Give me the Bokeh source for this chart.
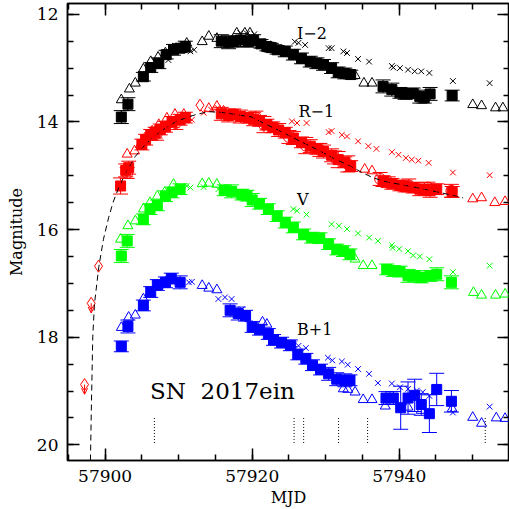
from bokeh.plotting import figure
from bokeh.models import (Range1d, FixedTicker, LinearAxis, ColumnDataSource, Whisker,
                          TeeHead, Arrow, OpenHead, Label)
from bokeh.embed import file_html
from bokeh.resources import INLINE

# ---------------- data (MJD, magnitude, error) ----------------
# I-2 (black)
I_sq_t = [57902.2, 57903.1, 57905.2, 57906.2, 57907.3, 57908.3, 57909.3, 57910.2, 57910.9,
          57915.8, 57916.8, 57917.5, 57918.4, 57919.5, 57920.2, 57921.2, 57922.0, 57922.6, 57923.4,
          57924.5, 57925.6, 57926.7, 57927.9, 57928.8, 57929.7, 57930.8, 57931.7, 57932.6, 57933.4,
          57937.8, 57939.0, 57940.1, 57940.8, 57941.9, 57942.8, 57943.4, 57944.2, 57947.2]
I_sq_m = [13.91, 13.67, 13.16, 12.99, 12.91, 12.75, 12.66, 12.63, 12.60,
          12.50, 12.52, 12.51, 12.48, 12.51, 12.48, 12.55, 12.60, 12.62, 12.66,
          12.69, 12.75, 12.82, 12.88, 12.91, 12.94, 13.00, 13.08, 13.10, 13.12,
          13.34, 13.40, 13.46, 13.48, 13.47, 13.53, 13.55, 13.48, 13.51]
I_sq_e = [0.12, 0.12, 0.08, 0.09, 0.10, 0.08, 0.10, 0.08, 0.10,
          0.12, 0.12, 0.10, 0.12, 0.10, 0.10, 0.08, 0.08, 0.08, 0.08,
          0.10, 0.10, 0.10, 0.10, 0.10, 0.10, 0.10, 0.10, 0.10, 0.08,
          0.12, 0.12, 0.10, 0.10, 0.10, 0.12, 0.10, 0.12, 0.10]
I_tri_t = [57902.2, 57903.3, 57904.1, 57905.2, 57906.2, 57907.2, 57908.2, 57909.2, 57911.1,
           57913.2, 57914.1, 57915.2, 57917.9, 57919.0, 57919.7, 57922.5, 57934.0, 57935.2,
           57936.3, 57950.0, 57951.2, 57953.1, 57954.1]
I_tri_m = [13.59, 13.39, 13.28, 13.02, 12.88, 12.80, 12.72, 12.64, 12.54,
           12.51, 12.41, 12.45, 12.35, 12.35, 12.35, 12.60, 13.14, 13.28,
           13.28, 13.68, 13.70, 13.74, 13.74]
I_x_t = [57908.6, 57911.6, 57912.1, 57918.4, 57919.3, 57920.3, 57925.8, 57926.3, 57927.2,
         57930.4, 57930.8, 57932.4, 57932.9, 57934.4, 57935.9, 57939.0, 57939.2, 57940.1,
         57941.2, 57942.1, 57943.0, 57944.1, 57947.3, 57952.3]
I_x_m = [12.85, 12.69, 12.66, 12.35, 12.36, 12.37, 12.51, 12.53, 12.57,
         12.63, 12.63, 12.69, 12.72, 12.83, 12.88, 12.96, 12.99, 13.00,
         13.03, 13.06, 13.06, 13.09, 13.24, 13.28]

# R-1 (red)
R_sq_t = [57902.1, 57902.8, 57903.2, 57905.0, 57905.5, 57906.2, 57906.8, 57907.5, 57908.2,
          57909.1, 57910.2, 57910.9,
          57915.8, 57916.8, 57917.5, 57918.4, 57919.5, 57920.2, 57921.0, 57922.0, 57922.8,
          57923.6, 57924.5, 57925.6, 57926.7, 57927.9, 57928.8, 57929.7, 57930.8, 57931.7,
          57932.6, 57933.4,
          57937.8, 57939.0, 57940.1, 57940.8, 57941.9, 57942.8, 57943.4, 57944.2, 57945.1, 57947.2]
R_sq_m = [15.19, 14.90, 14.85, 14.42, 14.33, 14.24, 14.20, 14.14, 14.09,
          14.00, 13.96, 13.92,
          13.85, 13.88, 13.86, 13.90, 13.92, 13.95, 13.98, 14.05, 14.10,
          14.15, 14.20, 14.30, 14.38, 14.45, 14.50, 14.55, 14.62, 14.70,
          14.75, 14.82,
          15.10, 15.15, 15.18, 15.20, 15.22, 15.25, 15.26, 15.28, 15.25, 15.30]
R_sq_e = [0.15, 0.12, 0.12, 0.10, 0.10, 0.10, 0.10, 0.10, 0.10,
          0.10, 0.10, 0.10,
          0.12, 0.12, 0.10, 0.12, 0.10, 0.12, 0.10, 0.10, 0.10,
          0.12, 0.10, 0.12, 0.10, 0.12, 0.10, 0.12, 0.12, 0.15,
          0.10, 0.10,
          0.10, 0.10, 0.10, 0.10, 0.10, 0.12, 0.10, 0.12, 0.10, 0.10]
R_ci_t = [57903.0, 57907.0, 57909.6, 57920.5, 57921.6, 57925.0, 57927.3, 57929.2, 57931.2,
          57933.0, 57937.4, 57938.5, 57941.3, 57943.9, 57947.1]
R_ci_m = [14.95, 14.22, 14.02, 13.92, 14.05, 14.28, 14.44, 14.52, 14.66,
          14.78, 15.06, 15.12, 15.18, 15.22, 15.28]
R_ci_e = [0.10, 0.12, 0.12, 0.12, 0.15, 0.12, 0.15, 0.12, 0.12,
          0.15, 0.12, 0.10, 0.12, 0.10, 0.12]
R_tri_t = [57903.0, 57904.0, 57904.8, 57905.4, 57906.4, 57907.3, 57908.4, 57909.5, 57910.7,
           57914.1, 57915.2, 57916.1, 57935.3, 57936.3, 57950.0, 57951.2, 57953.0, 57954.4]
R_tri_m = [14.60, 14.54, 14.42, 14.30, 14.17, 14.05, 13.93, 13.86, 13.86,
           13.75, 13.71, 13.80, 14.88, 14.91, 15.43, 15.41, 15.50, 15.48]
R_x_t = [57911.4, 57911.8, 57913.4, 57914.4, 57915.3, 57925.4, 57926.1, 57927.4, 57930.4,
         57930.8, 57932.2, 57932.9, 57934.4, 57935.8, 57936.9, 57939.0, 57939.9, 57940.9,
         57941.7, 57942.6, 57944.0, 57947.3, 57952.3]
R_x_m = [13.93, 13.96, 13.83, 13.77, 13.74, 13.99, 14.02, 14.02, 14.19,
         14.17, 14.24, 14.27, 14.36, 14.45, 14.50, 14.56, 14.61, 14.67,
         14.70, 14.72, 14.76, 14.94, 14.99]
R_lim_t = [57897.2, 57898.1]          # upper limits (arrows)
R_lim_m = [18.88, 17.37]
R_lim_arrow = [0.18, 0.18]
R_dia_t = [57899.1, 57912.9]
R_dia_m = [16.68, 13.69]

# fit curve through R-1
fit_t = [57898.0, 57898.14, 57898.32, 57898.55, 57899.13, 57899.77, 57900.49, 57901.09,
         57901.85, 57902.9, 57904.11, 57905.2, 57906.38, 57907.5, 57908.64, 57909.7,
         57910.9, 57912.4, 57914.07, 57915.65, 57917.69, 57919.96, 57921.09, 57922.58,
         57924.25, 57926.52, 57928.79, 57931.0, 57933.31, 57934.94, 57936.47, 57938.19,
         57940.1, 57942.36, 57945.5, 57948.7]
fit_m = [20.29, 19.20, 17.98, 17.38, 16.70, 16.18, 15.77, 15.49,
         15.22, 14.92, 14.64, 14.46, 14.30, 14.18, 14.08, 13.99,
         13.93, 13.86, 13.81, 13.82, 13.86, 13.91, 13.99, 14.09,
         14.20, 14.36, 14.51, 14.67, 14.82, 14.94, 15.04, 15.11,
         15.16, 15.22, 15.31, 15.41]

# V (green)
V_sq_t = [57902.2, 57903.0, 57905.2, 57906.1, 57907.1, 57908.2, 57909.1, 57910.2,
          57916.2, 57917.2, 57918.6, 57919.3, 57920.0, 57921.0, 57922.2, 57923.4, 57924.5,
          57925.6, 57927.0, 57928.1, 57929.2, 57930.4, 57931.5, 57932.4, 57933.3,
          57938.3, 57939.2, 57940.1, 57941.2, 57942.1, 57943.0, 57944.2, 57945.1, 57947.1]
V_sq_m = [16.49, 16.21, 15.81, 15.62, 15.55, 15.38, 15.31, 15.25,
          15.27, 15.29, 15.35, 15.37, 15.45, 15.52, 15.62, 15.75, 15.87,
          15.96, 16.09, 16.15, 16.16, 16.27, 16.37, 16.40, 16.46,
          16.74, 16.77, 16.78, 16.86, 16.86, 16.89, 16.86, 16.83, 16.98]
V_sq_e = [0.12, 0.12, 0.10, 0.10, 0.10, 0.10, 0.10, 0.10,
          0.10, 0.12, 0.10, 0.10, 0.12, 0.10, 0.10, 0.10, 0.10,
          0.10, 0.10, 0.10, 0.10, 0.10, 0.10, 0.10, 0.10,
          0.10, 0.10, 0.10, 0.12, 0.10, 0.10, 0.10, 0.12, 0.12]
V_tri_t = [57902.1, 57903.1, 57904.1, 57905.2, 57906.1, 57907.1, 57908.1, 57909.3,
           57913.2, 57914.1, 57915.2, 57934.0, 57935.1, 57936.3, 57950.1, 57951.2,
           57953.1, 57954.4]
V_tri_m = [16.18, 15.93, 15.84, 15.62, 15.50, 15.38, 15.31, 15.16,
           15.15, 15.14, 15.16, 16.55, 16.67, 16.67, 17.17, 17.22,
           17.22, 17.20]
V_x_t = [57911.1, 57911.6, 57913.4, 57915.4, 57916.0, 57920.2, 57925.6, 57926.1, 57927.4,
         57930.8, 57931.8, 57932.9, 57934.4, 57935.9, 57937.1, 57939.0, 57939.1, 57940.0,
         57941.2, 57941.9, 57942.8, 57944.1, 57947.3, 57952.3]
V_x_m = [15.19, 15.22, 15.21, 15.25, 15.27, 15.38, 15.62, 15.65, 15.72,
         15.90, 15.93, 15.99, 16.07, 16.15, 16.21, 16.29, 16.34, 16.36,
         16.40, 16.48, 16.50, 16.55, 16.79, 16.67]

# B+1 (blue)
B_sq_t = [57902.2, 57903.1, 57905.2, 57906.2, 57907.1, 57908.2, 57909.0, 57910.2,
          57917.0, 57918.1, 57919.1, 57920.0, 57921.0, 57922.2, 57922.9, 57924.0, 57925.2,
          57926.2, 57927.3, 57928.2, 57929.3, 57930.4, 57931.5, 57932.6, 57933.3,
          57938.2, 57939.2, 57940.2, 57941.2, 57942.1, 57943.0, 57944.1, 57945.1, 57947.1]
B_sq_m = [18.17, 17.80, 17.41, 17.16, 17.03, 16.98, 16.91, 16.98,
          17.50, 17.56, 17.60, 17.81, 17.86, 17.94, 18.05, 18.10, 18.15,
          18.32, 18.40, 18.52, 18.60, 18.68, 18.78, 18.80, 18.80,
          19.13, 19.13, 19.31, 19.13, 19.08, 19.25, 19.42, 18.97, 19.19]
B_sq_e = [0.10, 0.12, 0.10, 0.10, 0.10, 0.10, 0.10, 0.12,
          0.12, 0.12, 0.10, 0.10, 0.10, 0.10, 0.10, 0.10, 0.10,
          0.10, 0.10, 0.10, 0.10, 0.12, 0.12, 0.12, 0.10,
          0.12, 0.12, 0.40, 0.30, 0.30, 0.20, 0.35, 0.30, 0.20]
B_tri_t = [57902.2, 57903.2, 57904.1, 57905.2, 57906.1, 57907.2, 57908.2, 57913.2,
           57914.1, 57915.2, 57921.4, 57922.0, 57932.4, 57933.0, 57934.0, 57935.1,
           57936.3, 57938.1, 57941.2, 57943.0, 57947.2, 57950.0, 57951.2, 57953.2, 57954.4]
B_tri_m = [17.82, 17.63, 17.59, 17.29, 17.17, 17.05, 16.98, 17.04,
           17.09, 17.12, 17.72, 17.76, 18.96, 18.97, 19.02, 19.16,
           19.16, 19.28, 19.30, 19.36, 19.33, 19.49, 19.60, 19.50, 19.51]
B_x_t = [57911.4, 57911.8, 57915.4, 57916.3, 57917.2, 57918.6, 57925.7, 57926.3, 57927.3,
         57930.3, 57930.9, 57932.2, 57933.0, 57934.4, 57935.9, 57937.1, 57939.0, 57940.1,
         57941.2, 57942.4, 57943.2, 57944.1, 57947.3, 57952.3]
B_x_m = [16.98, 16.97, 17.29, 17.26, 17.29, 17.48, 18.13, 18.16, 18.20,
         18.38, 18.43, 18.45, 18.51, 18.59, 18.68, 18.85, 18.86, 18.93,
         18.96, 18.99, 19.02, 19.09, 19.40, 19.29]

# epochs marked at the bottom (dotted)
epoch_t = [57906.7, 57925.7, 57927.0, 57931.75, 57935.7, 57951.7]
epoch_top, epoch_bottom = 19.5, 20.0

# text labels
band_labels = ["I\u22122", "R\u22121", "V", "B+1"]
band_label_t = [57926.1, 57926.3, 57926.1, 57926.1]
band_label_m = [12.35, 13.80, 15.44, 17.85]
title_text = "SN\u00a0\u00a02017ein"
title_t, title_m = 57906.1, 19.0

x_major = [57900, 57920, 57940]
y_major = [12, 14, 16, 18, 20]

# ---------------- figure ----------------
SERIF = "DejaVu Serif"
p = figure(width=509, height=509, output_backend="svg", toolbar_location=None,
           x_range=Range1d(57894.88, 57955.0), y_range=Range1d(20.29, 11.8),
           min_border_left=67, min_border_right=0, min_border_top=3, min_border_bottom=47)
p.xgrid.visible = False
p.ygrid.visible = False
p.outline_line_color = "black"
p.outline_line_width = 1.5
p.background_fill_color = "white"
p.border_fill_color = "white"

p.add_layout(LinearAxis(), "above")
p.add_layout(LinearAxis(), "right")

xt = FixedTicker(ticks=x_major, minor_ticks=[57895 + 5 * i for i in range(13)])
yt = FixedTicker(ticks=y_major, minor_ticks=[11.5 + 0.5 * i for i in range(20)])
for ax in p.xaxis:
    ax.ticker = xt
for ax in p.yaxis:
    ax.ticker = yt
for ax in p.xaxis + p.yaxis:
    ax.major_tick_in = 12
    ax.major_tick_out = 0
    ax.minor_tick_in = 6
    ax.minor_tick_out = 0
    ax.axis_line_width = 1.5
    ax.major_tick_line_width = 1.5
    ax.minor_tick_line_width = 1.5
    ax.major_label_text_font = SERIF
    ax.major_label_text_font_size = "17px"
    ax.major_label_text_color = "black"
    ax.axis_label_text_font = SERIF
    ax.axis_label_text_font_style = "normal"
    ax.axis_label_text_font_size = "16px"
    ax.axis_label_text_color = "black"
p.above[0].major_label_overrides = {t: "" for t in x_major}
p.right[0].major_label_overrides = {t: "" for t in y_major}
for ax in (p.above[0], p.right[0]):
    ax.major_label_standoff = 0
    ax.major_label_text_font_size = "1px"
p.below[0].axis_label = "MJD"
p.below[0].major_label_standoff = 9
p.below[0].axis_label_standoff = 3
p.left[0].axis_label = "Magnitude"
p.left[0].major_label_standoff = 9
p.left[0].axis_label_standoff = 8
p.left[0].major_label_orientation = "horizontal"


def errors(t, m, e, color):
    src = ColumnDataSource(dict(x=t, lo=[a - b for a, b in zip(m, e)],
                                hi=[a + b for a, b in zip(m, e)]))
    w = Whisker(source=src, base="x", lower="lo", upper="hi", dimension="height",
                line_color=color, line_width=1,
                upper_head=TeeHead(size=15, line_color=color, line_width=1),
                lower_head=TeeHead(size=15, line_color=color, line_width=1))
    w.level = "glyph"
    p.add_layout(w)


bands = [
    ("black", I_sq_t, I_sq_m, I_sq_e, I_tri_t, I_tri_m, I_x_t, I_x_m),
    ("#ff0000", R_sq_t, R_sq_m, R_sq_e, R_tri_t, R_tri_m, R_x_t, R_x_m),
    ("#00ff00", V_sq_t, V_sq_m, V_sq_e, V_tri_t, V_tri_m, V_x_t, V_x_m),
    ("#0000ff", B_sq_t, B_sq_m, B_sq_e, B_tri_t, B_tri_m, B_x_t, B_x_m),
]
for color, st, sm, se, tt, tm, xt_, xm in bands:
    errors(st, sm, se, color)
    p.scatter(xt_, xm, marker="x", size=8, line_color=color, line_width=1)
    p.scatter(tt, tm, marker="triangle", size=10, line_color=color, fill_color=None,
              line_width=1)
    p.scatter(st, sm, marker="square", size=10, line_color=color, fill_color=color)

# red extras: open circles with errors, diamonds, upper limits
errors(R_ci_t, R_ci_m, R_ci_e, "#ff0000")
p.scatter(R_ci_t, R_ci_m, marker="circle", size=11, line_color="#ff0000", fill_color=None,
          line_width=1)
p.scatter(R_dia_t, R_dia_m, marker="diamond", size=12, line_color="#ff0000", fill_color=None,
          line_width=1)
p.scatter(R_lim_t, R_lim_m, marker="diamond", size=12, line_color="#ff0000", fill_color=None,
          line_width=1)
lim_src = ColumnDataSource(dict(x=R_lim_t, y0=R_lim_m,
                                y1=[a + b for a, b in zip(R_lim_m, R_lim_arrow)]))
p.add_layout(Arrow(source=lim_src, x_start="x", y_start="y0", x_end="x", y_end="y1",
                   line_color="#ff0000", line_width=1,
                   end=OpenHead(size=6, line_color="#ff0000", line_width=1)))

# fit line
p.line(fit_t, fit_m, line_color="black", line_width=1, line_dash="6 4")

# epoch markers
p.segment(x0=epoch_t, y0=[epoch_top] * len(epoch_t), x1=epoch_t,
          y1=[epoch_bottom] * len(epoch_t), line_color="black", line_width=1,
          line_dash="1 2")

for txt, tx, tm in zip(band_labels, band_label_t, band_label_m):
    p.add_layout(Label(x=tx, y=tm, text=txt, text_font=SERIF, text_font_size="16px",
                       text_baseline="alphabetic", text_color="black"))
p.add_layout(Label(x=title_t, y=title_m, text=title_text, text_font=SERIF,
                   text_font_size="23px", text_baseline="alphabetic", text_color="black"))

open("out.html", "w").write(file_html(p, INLINE))
